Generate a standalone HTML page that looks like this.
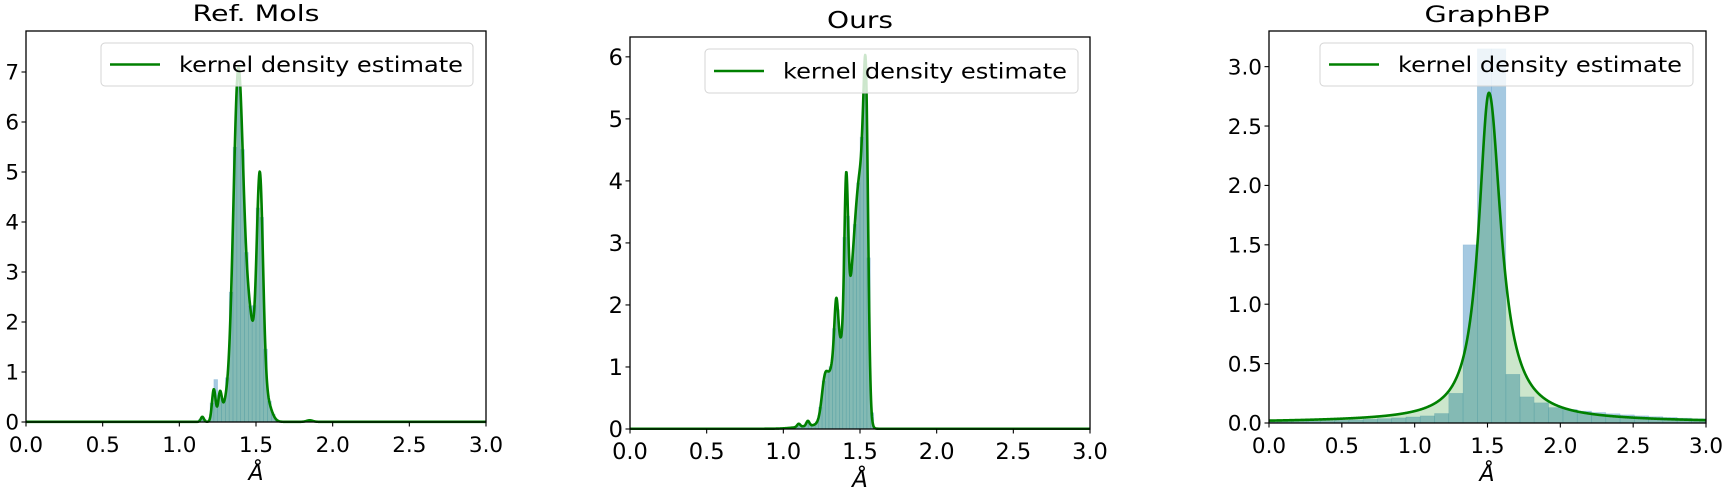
<!DOCTYPE html>
<html><head><meta charset="utf-8">
<style>
html,body{margin:0;padding:0;background:#fff;}
svg{display:block;}
text{font-family:"DejaVu Sans","Liberation Sans",sans-serif;fill:#000;}
</style></head>
<body>
<svg id="s" width="1725" height="493" xmlns="http://www.w3.org/2000/svg">
<text x="256" y="21" font-size="22" text-anchor="middle" textLength="127" lengthAdjust="spacingAndGlyphs">Ref. Mols</text>
<text x="860" y="28" font-size="23" text-anchor="middle" textLength="66" lengthAdjust="spacingAndGlyphs">Ours</text>
<text x="1487" y="22" font-size="22" text-anchor="middle" textLength="125" lengthAdjust="spacingAndGlyphs">GraphBP</text>
<text x="256" y="480" font-size="22" font-style="italic" text-anchor="middle">Å</text>
<text x="860" y="487" font-size="23" font-style="italic" text-anchor="middle">Å</text>
<text x="1487" y="481" font-size="22" font-style="italic" text-anchor="middle">Å</text>
</svg>
<script>
var NS="http://www.w3.org/2000/svg",S=document.getElementById('s');
function el(n,a,t){var e=document.createElementNS(NS,n);for(var k in a)e.setAttribute(k,a[k]);if(t!=null)e.textContent=t;S.appendChild(e);return e;}
function g(x,m,s,a){return a*Math.exp(-(x-m)*(x-m)/(2*s*s));}
function g2s(x,m,sl,sr,a){var s=x<m?sl:sr;return a*Math.exp(-(x-m)*(x-m)/(2*s*s));}
var k1=function(x){return g(x,1.385,0.033,7.0)+g(x,1.525,0.021,4.7)+g(x,1.46,0.03,1.8)+g(x,1.225,0.012,0.65)+g(x,1.265,0.012,0.55)+g(x,1.15,0.01,0.1)+g(x,1.57,0.03,0.4)+g(x,1.3,0.02,0.25)+g(x,1.85,0.02,0.03)+0.004;};
var k2=function(x){return g(x,1.54,0.014,3.7)+g(x,1.41,0.012,2.5)+g2s(x,1.51,0.06,0.025,4.2)+g(x,1.345,0.012,0.8)+g(x,1.35,0.05,1.2)+g(x,1.27,0.02,0.5)+g(x,1.1,0.01,0.05)+g(x,1.16,0.01,0.08)+g(x,1.2,0.1,0.05)+0.004;};
var k3=function(x){var d=x-1.51,gm=d<0?0.085:0.1;return 2.74*gm*gm/(d*d+gm*gm)+0.04*Math.exp(-Math.abs(d)/1.2);};
function mkbars(k,a,b,w){var r=[];for(var x=a;x<b;x+=w){var s=0;for(var i=0;i<10;i++)s+=k(x+w*(i+0.5)/10);r.push([x,x+w,s/10]);}return r;}
var b1=mkbars(k1,1.1,1.7,0.025);b1.forEach(function(b){if(b[0]>1.21&&b[0]<1.24)b[2]=0.85;});
var b2=mkbars(k2,1.05,1.65,0.0225);
var b3=[];var e=[1.136,1.234,1.332,1.43,1.528,1.626,1.723,1.82,1.92];var h=[0.08,0.25,1.5,3.15,3.15,0.41,0.22,0.17];
for(var i=0;i<h.length;i++)b3.push([e[i],e[i+1],h[i]]);
for(var x=1.92,v=0.13;x<3.0;x+=0.098){b3.push([x,x+0.098,v]);v=Math.max(0.035,v*0.88);}
for(var x=1.136,v=0.06;x>0;x-=0.098){b3.push([x-0.098,x,v]);v=Math.max(0.01,v*0.85);}
var P=[
{L:26,R:486,T:31,B:422,ym:7.82,yt:[0,1,2,3,4,5,6,7],f:function(v){return ''+v;},fs:21.5,k:k1,bars:b1,lg:[101,43,473,86]},
{L:630,R:1090,T:37,B:429,ym:6.32,yt:[0,1,2,3,4,5,6],f:function(v){return ''+v;},fs:22.5,k:k2,bars:b2,lg:[705,49,1078,93]},
{L:1269,R:1706,T:31,B:423,ym:3.30,yt:[0,0.5,1,1.5,2,2.5,3],f:function(v){return v.toFixed(1);},fs:21.5,k:k3,bars:b3,lg:[1320,43,1693,86]}
];
P.forEach(function(p){
 var X=function(v){return p.L+(p.R-p.L)*v/3;},Y=function(v){return p.B-(p.B-p.T)*v/p.ym;};
 p.bars.forEach(function(b){if(b[0]<0)b[0]=0;if(b[1]>3)b[1]=3;el('rect',{x:X(b[0]),y:Y(b[2]),width:Math.max(0,X(b[1])-X(b[0])),height:Y(0)-Y(b[2]),fill:'rgba(31,119,180,0.4)',stroke:'rgba(31,119,180,0.2)','stroke-width':0.6});});
 var d='M'+X(0)+','+Y(0),ln='';
 for(var i=0;i<=1500;i++){var x=i*3/1500,y=p.k(x);d+=' L'+X(x).toFixed(2)+','+Y(y).toFixed(2);ln+=(i?' L':'M')+X(x).toFixed(2)+','+Y(y).toFixed(2);}
 d+=' L'+X(3)+','+Y(0)+'Z';
 el('path',{d:d,fill:'rgba(0,128,0,0.2)'});
 el('path',{d:ln,fill:'none',stroke:'#008000','stroke-width':2.6,'stroke-linejoin':'round'});
 el('rect',{x:p.L,y:p.T,width:p.R-p.L,height:p.B-p.T,fill:'none',stroke:'#000','stroke-width':1.3});
 for(var t=0;t<=6;t++){var xv=t*0.5,xx=X(xv);
  el('line',{x1:xx,y1:p.B,x2:xx,y2:p.B+4.5,stroke:'#000','stroke-width':1.1});
  el('text',{x:xx,y:p.B+30,'font-size':p.fs,'text-anchor':'middle'},xv.toFixed(1));}
 p.yt.forEach(function(v){var yy=Y(v);
  el('line',{x1:p.L-4.5,y1:yy,x2:p.L,y2:yy,stroke:'#000','stroke-width':1.1});
  el('text',{x:p.L-7,y:yy+p.fs*0.36,'font-size':p.fs,'text-anchor':'end'},p.f(v));});
 var l=p.lg;
 el('rect',{x:l[0],y:l[1],width:l[2]-l[0],height:l[3]-l[1],rx:4,fill:'rgba(255,255,255,0.8)',stroke:'#d4d4d4','stroke-width':1});
 var cy=(l[1]+l[3])/2;
 el('line',{x1:l[0]+9,y1:cy,x2:l[0]+59,y2:cy,stroke:'#008000','stroke-width':2.6});
 el('text',{x:l[0]+78,y:cy+7.5,'font-size':21,textLength:284,lengthAdjust:'spacingAndGlyphs'},'kernel density estimate');
});
</script>
</body></html>
